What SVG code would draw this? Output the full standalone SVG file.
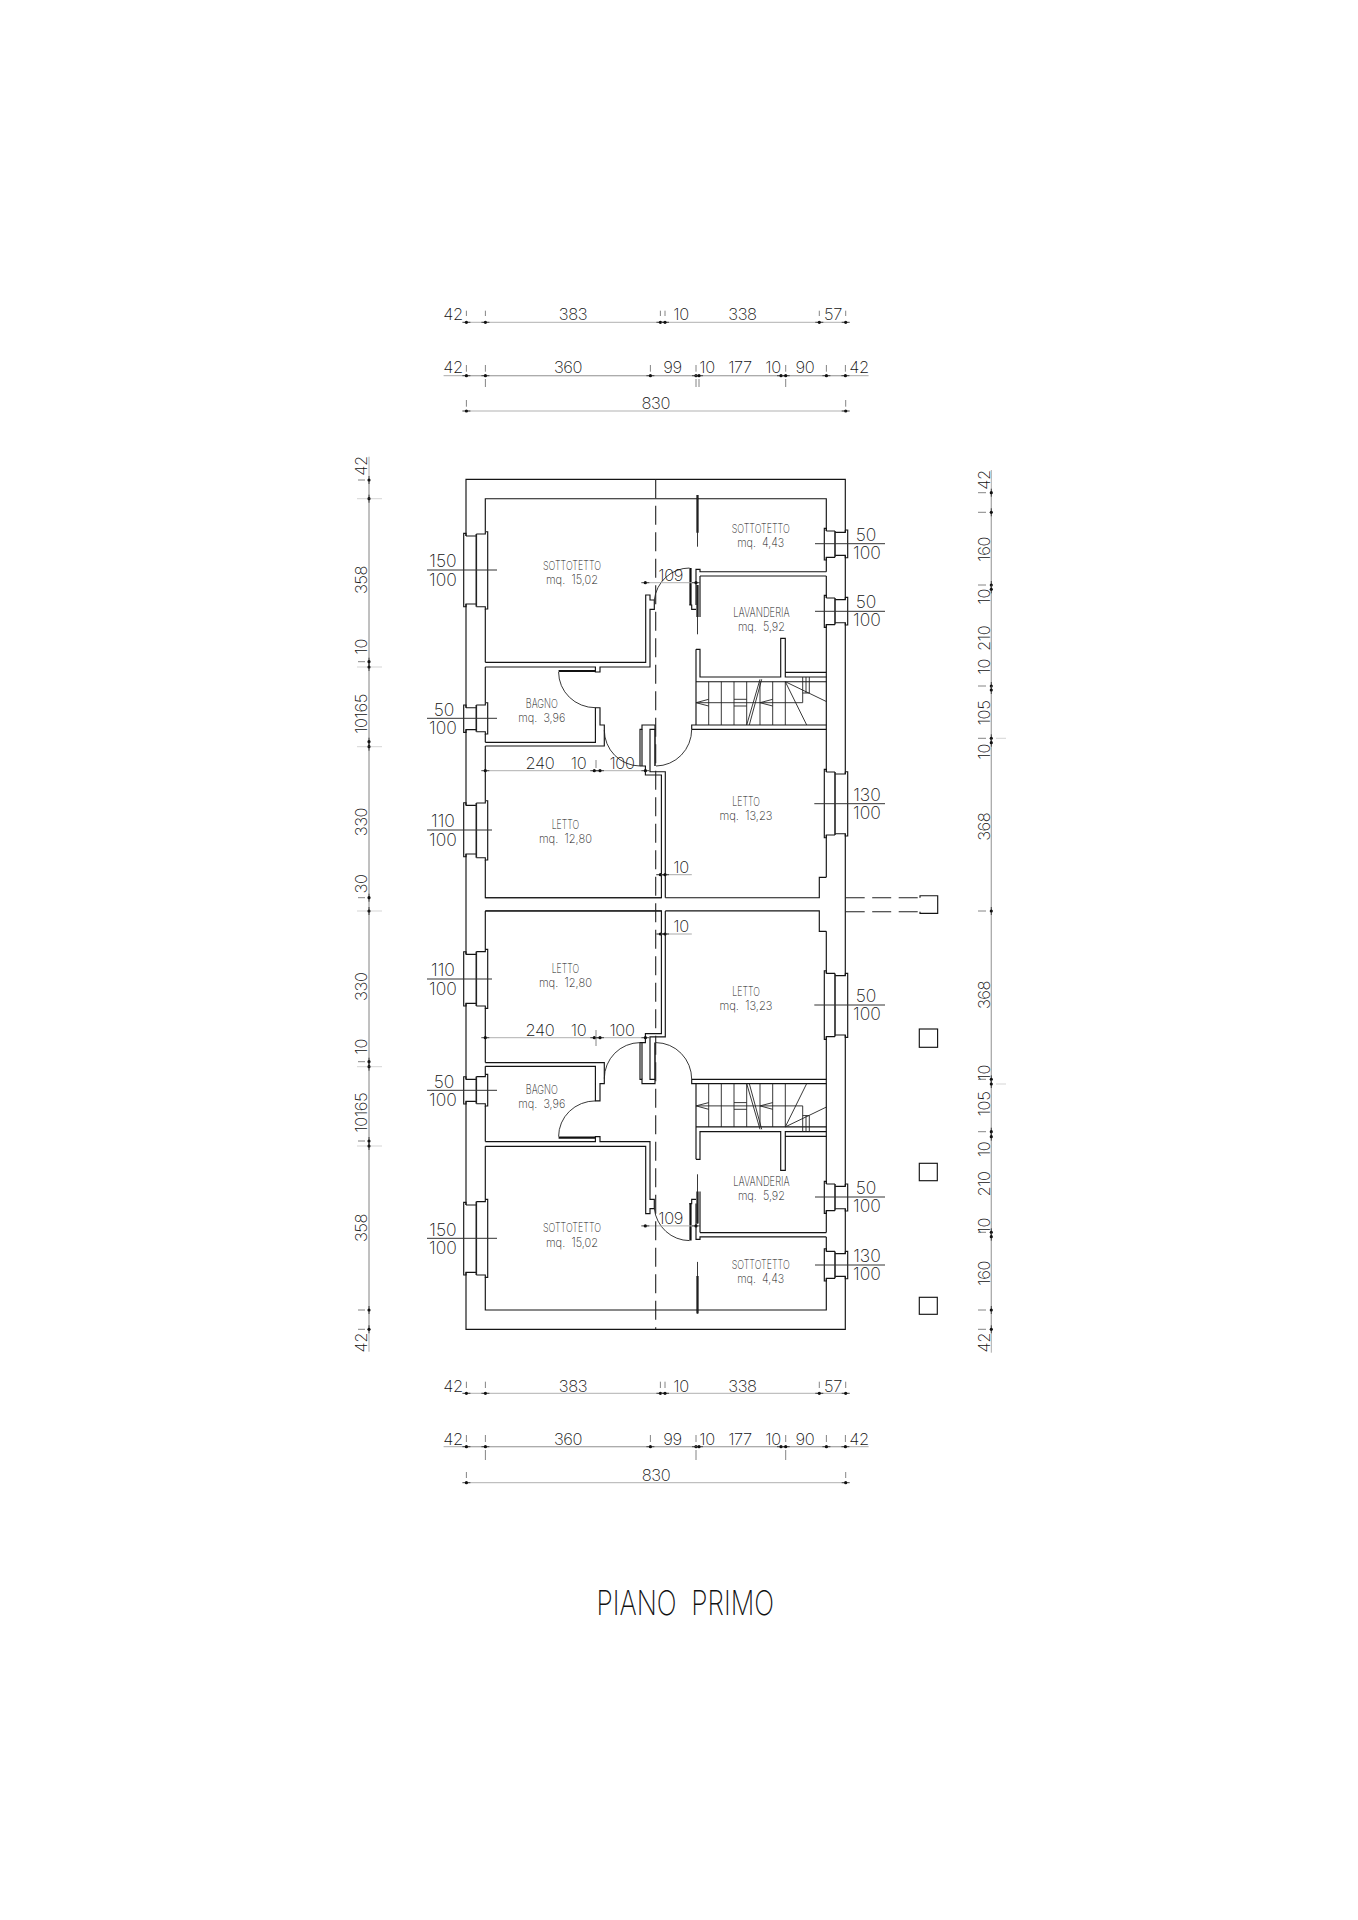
<svg xmlns="http://www.w3.org/2000/svg" xmlns:xlink="http://www.w3.org/1999/xlink" width="1358" height="1920" viewBox="0 0 1358 1920">
<style>
.w{fill:none;stroke:#141414;stroke-width:1.15}
.t{fill:none;stroke:#111;stroke-width:2.2}
.f{fill:none;stroke:#222;stroke-width:1.6}
.s{fill:none;stroke:#222;stroke-width:.9}
.dash{fill:none;stroke:#222;stroke-width:1.1;stroke-dasharray:19 7.5}
.dim{fill:none;stroke:#a8a8a8;stroke-width:.9;marker-start:url(#dot);marker-mid:url(#dot);marker-end:url(#dot)}
.ln{fill:none;stroke:#a0a0a0;stroke-width:.9}
.tick{fill:none;stroke:#666;stroke-width:.8}
.fl{fill:none;stroke:#333;stroke-width:1}
text{font-family:Inter,"Liberation Sans",Arial,sans-serif;font-weight:250;fill:#111;text-anchor:middle}
.d{font-size:16.5px;letter-spacing:-.4px}
.q{font-size:17.5px}
.r{font-size:12.5px;font-weight:400}
.title{font-size:34px;font-weight:200}
</style>
<defs>
<marker id="dot" markerUnits="userSpaceOnUse" markerWidth="12" markerHeight="6" refX="6" refY="3" orient="auto" viewBox="0 0 12 6"><path d="M2 3H10" stroke="#444" stroke-width="1"/><circle cx="6" cy="3" r="1.6" fill="#111"/></marker>
<g id="half">
<path class="w" d="M485.3 662.3H645.7V595H650V600H654.3V609.3H650V667H600V672H595.4V667H485.3"/>
<path class="t" d="M558.6 671H595.4"/>
<path class="s" d="M558.6 672A36.8 35.7 0 0 0 595.4 707.7"/>
<path class="w" d="M485.3 742.3H595.4V707.7H600V725H604.3V746H485.3"/>
<path class="s" d="M604.3 730A36 36 0 0 0 640 766"/>
<path class="w" d="M640 766V729.3H642V725H655V729.3H650V771.7H665.3V897.7"/>
<path class="w" d="M642 729.3V766M640 766H645.4V775H661.4V897.7H485.3"/>
<path class="f" d="M655 729.3V766"/>
<path class="s" d="M656 766A36 36.7 0 0 0 691.7 729.3"/>
<path class="w" d="M691.7 729.3V725H826.3M691.7 729.3H826.3"/>
<path class="w" d="M665.3 897.7H819.3V877.3H826.3"/>
<path class="s" d="M708.7 681.7V725M721.3 681.7V725M734 681.7V725M746.7 681.7V725M760 681.7V725M772.7 681.7V725M785.3 681.7V725"/>
<path class="w" d="M696 649.3V725M696 681.7H826.3"/>
<path class="w" d="M696 649.3H700V677H780.7V638.3H785.3V672.3H826.3M785.3 672.3V677H826.3"/>
<path class="s" d="M802.7 677V702.7M806 677V693M809.3 677V693H802.7M785.3 681.7L826.7 701.7M785.3 681.7L806.7 725M696 702.7H802.7"/>
<path class="s" d="M708.7 699.3L696 702.7L708.7 706M772.7 699.3L760 702.7L772.7 706M734 699.3H746.7M734 706H746.7"/>
<path class="s" d="M760 679.3L746.7 725M761.7 679.3L749.3 725"/>
<path class="w" d="M696 605V569.3H700V571.7H826.3M700 576H826.3M700 576V617"/>
<path class="t" d="M690.5 568V605M697.5 585V617M697.5 495V532.7"/>
<path class="s" d="M697.5 585V634.3M697.5 495V546.7"/>
<path class="w" d="M689.3 605H691.7V609.3H696"/>
<path class="s" d="M689.5 568A35.5 36 0 0 0 654.3 600"/>
<path class="dim" d="M645.3 582.7H696"/>
</g>
</defs>
<rect width="1358" height="1920" fill="#fff"/>
<g id="plan">
<path class="w" d="M466 536V479.3H845.3V532.3M466 604V707.7M466 729.6V805.4M466 854V954.4M466 1003.3V1079.4M466 1101.3V1205M466 1272.3V1329.3H845.3V1276.4M845.3 555.4V599.6M845.3 622.7V774M845.3 833.7V975.6M845.3 1035V1186.3M845.3 1208.7V1253.6"/>
<path class="w" d="M485.3 531.7V498.7H826.3V531M485.3 609V662.3M485.3 667V702.7M485.3 734V742.3M485.3 746V800.7M485.3 860V897.7H661.4M485.3 911H661.4M485.3 911V949.3M485.3 1008.3V1062.6M485.3 1066.3V1074.3M485.3 1106V1141.6M485.3 1146.3V1199.3M485.3 1277.3V1310H826.3V1278.3"/>
<path class="w" d="M826.3 557.3V571.7M826.3 576V598M826.3 624.6V772M826.3 835V877.3M826.3 931.3V973.4M826.3 1036.6V1184M826.3 1210.6V1232.6M826.3 1236.9V1251.4"/>
<use href="#half" xlink:href="#half"/>
<use href="#half" xlink:href="#half" transform="matrix(1 0 0 -1 0 1808.6)"/>
<path class="dash" d="M655.7 479.3V1329.3"/>
<path class="dash" d="M845.7 897.7H920M845.7 911.7H920"/>
<path class="w" d="M920 897.7V895.7H937.7V913.3H920V911.7"/>
<rect class="w" x="919.3" y="1029" width="18.3" height="18.3"/>
<rect class="w" x="919.3" y="1163.3" width="18" height="17.4"/>
<rect class="w" x="919.3" y="1297.3" width="18" height="17"/>
</g>
<g id="windows">
<path class="w" d="M466 536V533.3H463.7V606.7H466V604H476.3M466 536H476.3M485.3 531.7H487.7V609H485.3V606.7H476.3M485.3 531.7V534H476.3"/><path class="f" d="M476.3 534V606.7"/>
<path class="w" d="M466 707.7V705H463.7V732.3H466V729.6H476.3M466 707.7H476.3M485.3 702.7H487.7V734H485.3V731.7H476.3M485.3 702.7V705H476.3"/><path class="f" d="M476.3 705V731.7"/>
<path class="w" d="M466 805.4V802.7H463.7V856.7H466V854H476.3M466 805.4H476.3M485.3 800.7H487.7V860H485.3V857.7H476.3M485.3 800.7V803H476.3"/><path class="f" d="M476.3 803V857.7"/>
<path class="w" d="M466 954.4V951.7H463.7V1006H466V1003.3H476.3M466 954.4H476.3M485.3 949.3H487.7V1008.3H485.3V1006H476.3M485.3 949.3V951.6H476.3"/><path class="f" d="M476.3 951.6V1006"/>
<path class="w" d="M466 1079.4V1076.7H463.7V1104H466V1101.3H476.3M466 1079.4H476.3M485.3 1074.3H487.7V1106H485.3V1103.7H476.3M485.3 1074.3V1076.6H476.3"/><path class="f" d="M476.3 1076.6V1103.7"/>
<path class="w" d="M466 1205V1202.3H463.7V1275H466V1272.3H476.3M466 1205H476.3M485.3 1199.3H487.7V1277.3H485.3V1275H476.3M485.3 1199.3V1201.6H476.3"/><path class="f" d="M476.3 1201.6V1275"/>
<path class="w" d="M826.3 531V528.3H824.3V560H826.3V557.3H835M826.3 531H835M845.3 530H847.7V557.7H845.3V555.4H835M845.3 530V532.3H835"/><path class="f" d="M835 531V557.3"/>
<path class="w" d="M826.3 598V595.3H824.3V627.3H826.3V624.6H835M826.3 598H835M845.3 597.3H847.7V625H845.3V622.7H835M845.3 597.3V599.6H835"/><path class="f" d="M835 598V624.6"/>
<path class="w" d="M826.3 772V769.3H824.3V837.7H826.3V835H835M826.3 772H835M845.3 771.7H847.7V836H845.3V833.7H835M845.3 771.7V774H835"/><path class="f" d="M835 772V835"/>
<path class="w" d="M826.3 973.4V970.7H824.3V1039.3H826.3V1036.6H835M826.3 973.4H835M845.3 973.3H847.7V1037.3H845.3V1035H835M845.3 973.3V975.6H835"/><path class="f" d="M835 973.4V1036.6"/>
<path class="w" d="M826.3 1184V1181.3H824.3V1213.3H826.3V1210.6H835M826.3 1184H835M845.3 1184H847.7V1211H845.3V1208.7H835M845.3 1184V1186.3H835"/><path class="f" d="M835 1184V1210.6"/>
<path class="w" d="M826.3 1251.4V1248.7H824.3V1281H826.3V1278.3H835M826.3 1251.4H835M845.3 1251.3H847.7V1278.7H845.3V1276.4H835M845.3 1251.3V1253.6H835"/><path class="f" d="M835 1251.4V1278.3"/>
</g>
<g id="dimension-lines">
<path class="dim" d="M466.4 322.3H485.4H660.4H665H819.3H845.7"/>
<path class="ln" d="M443.6 375.7H868.6"/>
<path class="dim" d="M466.4 375.7H485.4H650.4H696H699H781H785.7H826.4H845.4"/>
<path class="dim" d="M466.4 411H845.7"/>
<path class="dim" d="M466.4 1393.3H485.4H660.4H665H819.3H845.7"/>
<path class="ln" d="M443.6 1446.7H868.6"/>
<path class="dim" d="M466.4 1446.7H485.4H650.4H696H699H781H785.7H826.4H845.4"/>
<path class="dim" d="M466.4 1482.7H845.7"/>
<path class="dim" d="M485.3 770.7H594.3H600H645.4"/>
<path class="dim" d="M485.3 1037.7H594.3H600H645.4"/>
<path class="ln" d="M656 874.7H691.8M656 934H691.8"/>
<path class="dim" d="M660.4 874.7H665"/>
<path class="dim" d="M660.4 934H665"/>
<path class="ln" d="M369 456.7V1351.7M991.3 470V1352.7"/>
<path class="dim" d="M369 480V498.7V661.7V667V741.7V746.7V897.7V911V1061.7V1066.7V1141V1146V1310V1329.3"/>
<path class="dim" d="M991.3 492.7V512.3V585V589.3V686V690V738.3V742.7V911V1079.3V1084V1131.7V1136.7V1232.3V1236.7V1310V1329.3"/>
<path class="tick" d="M466.4 310.7V316M485.4 310.7V316M660.4 310.7V316M665 310.7V316M819.3 310.7V316M845.7 310.7V316M466.4 365V371.7M485.4 365V371.7M650.4 365V371.7M696 365V371.7M785.7 365V371.7M826.4 365V371.7M845.4 365V371.7M485.4 379V387M696 379V387M699 379V387M785.7 379V387M466.4 400V406.7M845.7 400V406.7"/>
<path class="tick" d="M466.4 1381.7V1388M485.4 1381.7V1388M660.4 1381.7V1388M665 1381.7V1388M819.3 1381.7V1388M845.7 1381.7V1388M466.4 1435V1442M485.4 1435V1442M650.4 1435V1442M696 1435V1442M785.7 1435V1442M826.4 1435V1442M845.4 1435V1442M485.4 1450V1460M696 1450V1460M785.7 1450V1460M466.4 1472V1478M845.7 1472V1478"/>
<path class="tick" d="M358 480H365M358 661.7H365M358 897.7H365M358 1061.7H365M358 1141H365M358 1310H365M358 1329.3H365M978 492.7H986M978 512.3H986M978 585H986M978 686H986M978 738.3H986M978 911H986M978 1079.3H986M978 1131.7H986M978 1232.3H986M978 1310H986M978 1329.3H986M596 760V768M596 1030V1046"/>
<path class="tick" stroke-opacity=".35" d="M357 498.7H382M357 667H382M357 746.7H382M357 911H382M357 1066.7H382M357 1146H382M996 738.3H1006M996 1084H1006"/>
</g>
<g id="fractions">
<path class="fl" d="M427 570H497M427 718.3H497M427 830H492M427 979H492M427 1090.3H497M427 1238.3H497M815 543.7H885M815 611.3H885M814.3 803.7H885M814.3 1005H885M815 1197H885M815 1265H885"/>
<g class="q">
<text x="443" y="567.3">150</text><text x="443" y="586">100</text>
<text x="444" y="715.6">50</text><text x="443" y="734.3">100</text>
<text x="443" y="827.3">110</text><text x="443" y="846">100</text>
<text x="443" y="976.3">110</text><text x="443" y="995">100</text>
<text x="444" y="1087.6">50</text><text x="443" y="1106.3">100</text>
<text x="443" y="1235.6">150</text><text x="443" y="1254.3">100</text>
<text x="866" y="540.7">50</text><text x="867" y="558.7">100</text>
<text x="866" y="608.3">50</text><text x="867" y="626.3">100</text>
<text x="867" y="800.7">130</text><text x="867" y="818.7">100</text>
<text x="866" y="1002">50</text><text x="867" y="1020">100</text>
<text x="866" y="1194">50</text><text x="867" y="1212">100</text>
<text x="867" y="1262">130</text><text x="867" y="1280">100</text>
</g>
</g>
<g id="dimensions" class="d">
<text x="453" y="320">42</text><text x="573" y="320">383</text><text x="681" y="320">10</text><text x="742.5" y="320">338</text><text x="833" y="320">57</text>
<text x="453" y="373.3">42</text><text x="568" y="373.3">360</text><text x="672.5" y="373.3">99</text><text x="707" y="373.3">10</text><text x="740" y="373.3">177</text><text x="773" y="373.3">10</text><text x="805" y="373.3">90</text><text x="859" y="373.3">42</text>
<text x="655.7" y="409">830</text>
<text x="453" y="1391.7">42</text><text x="573" y="1391.7">383</text><text x="681" y="1391.7">10</text><text x="742.5" y="1391.7">338</text><text x="833" y="1391.7">57</text>
<text x="453" y="1445">42</text><text x="568" y="1445">360</text><text x="672.5" y="1445">99</text><text x="707" y="1445">10</text><text x="740" y="1445">177</text><text x="773" y="1445">10</text><text x="805" y="1445">90</text><text x="859" y="1445">42</text>
<text x="656" y="1480.7">830</text>
<text x="670.7" y="580.7">109</text><text x="670.7" y="1224.3">109</text>
<text x="540" y="769">240</text><text x="578.6" y="769">10</text><text x="622" y="769">100</text>
<text x="540" y="1035.7">240</text><text x="578.6" y="1035.7">10</text><text x="622" y="1035.7">100</text>
<text x="681" y="873">10</text><text x="681" y="932.3">10</text>
<text transform="translate(366.5 466) rotate(-90)">42</text>
<text transform="translate(366.5 580) rotate(-90)">358</text>
<text transform="translate(366.5 646.7) rotate(-90)">10</text>
<text transform="translate(366.5 714) rotate(-90)">10165</text>
<text transform="translate(366.5 822) rotate(-90)">330</text>
<text transform="translate(366.5 884) rotate(-90)">30</text>
<text transform="translate(366.5 986.7) rotate(-90)">330</text>
<text transform="translate(366.5 1046.7) rotate(-90)">10</text>
<text transform="translate(366.5 1112.7) rotate(-90)">10165</text>
<text transform="translate(366.5 1228) rotate(-90)">358</text>
<text transform="translate(366.5 1342.7) rotate(-90)">42</text>
<text transform="translate(989.5 480) rotate(-90)">42</text>
<text transform="translate(989.5 549.3) rotate(-90)">160</text>
<text transform="translate(989.5 596.7) rotate(-90)">10</text>
<text transform="translate(989.5 638.3) rotate(-90)">210</text>
<text transform="translate(989.5 666.7) rotate(-90)">10</text>
<text transform="translate(989.5 713) rotate(-90)">105</text>
<text transform="translate(989.5 751.7) rotate(-90)">10</text>
<text transform="translate(989.5 826.7) rotate(-90)">368</text>
<text transform="translate(989.5 995) rotate(-90)">368</text>
<text transform="translate(989.5 1072.7) rotate(-90)">10</text>
<text transform="translate(989.5 1104) rotate(-90)">105</text>
<text transform="translate(989.5 1149.3) rotate(-90)">10</text>
<text transform="translate(989.5 1184) rotate(-90)">210</text>
<text transform="translate(989.5 1225.7) rotate(-90)">10</text>
<text transform="translate(989.5 1273.3) rotate(-90)">160</text>
<text transform="translate(989.5 1342.7) rotate(-90)">42</text>
</g>
<g id="room-labels" class="r">
<text x="572" y="570" textLength="58" lengthAdjust="spacingAndGlyphs">SOTTOTETTO</text><text x="572" y="584" textLength="52" lengthAdjust="spacingAndGlyphs">mq.&#160; 15,02</text>
<text x="760.7" y="533.3" textLength="58" lengthAdjust="spacingAndGlyphs">SOTTOTETTO</text><text x="760.7" y="547.3" textLength="47" lengthAdjust="spacingAndGlyphs">mq.&#160; 4,43</text>
<text x="761.4" y="616.7" textLength="56.4" lengthAdjust="spacingAndGlyphs">LAVANDERIA</text><text x="761.4" y="630.7" textLength="47" lengthAdjust="spacingAndGlyphs">mq.&#160; 5,92</text>
<text x="541.8" y="708" textLength="32" lengthAdjust="spacingAndGlyphs">BAGNO</text><text x="541.8" y="721.7" textLength="47" lengthAdjust="spacingAndGlyphs">mq.&#160; 3,96</text>
<text x="565.4" y="829.3" textLength="27.5" lengthAdjust="spacingAndGlyphs">LETTO</text><text x="565.4" y="843.3" textLength="53" lengthAdjust="spacingAndGlyphs">mq.&#160; 12,80</text>
<text x="746" y="806" textLength="27.5" lengthAdjust="spacingAndGlyphs">LETTO</text><text x="746" y="820" textLength="53" lengthAdjust="spacingAndGlyphs">mq.&#160; 13,23</text>
<text x="565.4" y="973.3" textLength="27.5" lengthAdjust="spacingAndGlyphs">LETTO</text><text x="565.4" y="986.7" textLength="53" lengthAdjust="spacingAndGlyphs">mq.&#160; 12,80</text>
<text x="746" y="996" textLength="27.5" lengthAdjust="spacingAndGlyphs">LETTO</text><text x="746" y="1010" textLength="53" lengthAdjust="spacingAndGlyphs">mq.&#160; 13,23</text>
<text x="541.8" y="1094.3" textLength="32" lengthAdjust="spacingAndGlyphs">BAGNO</text><text x="541.8" y="1108.3" textLength="47" lengthAdjust="spacingAndGlyphs">mq.&#160; 3,96</text>
<text x="572" y="1232.3" textLength="58" lengthAdjust="spacingAndGlyphs">SOTTOTETTO</text><text x="572" y="1246.7" textLength="52" lengthAdjust="spacingAndGlyphs">mq.&#160; 15,02</text>
<text x="761.4" y="1186" textLength="56.4" lengthAdjust="spacingAndGlyphs">LAVANDERIA</text><text x="761.4" y="1200" textLength="47" lengthAdjust="spacingAndGlyphs">mq.&#160; 5,92</text>
<text x="760.7" y="1269" textLength="58" lengthAdjust="spacingAndGlyphs">SOTTOTETTO</text><text x="760.7" y="1283" textLength="47" lengthAdjust="spacingAndGlyphs">mq.&#160; 4,43</text>
</g>
<text class="title" x="685.3" y="1615" textLength="177.5" lengthAdjust="spacingAndGlyphs">PIANO&#160;&#160;PRIMO</text>
</svg>
